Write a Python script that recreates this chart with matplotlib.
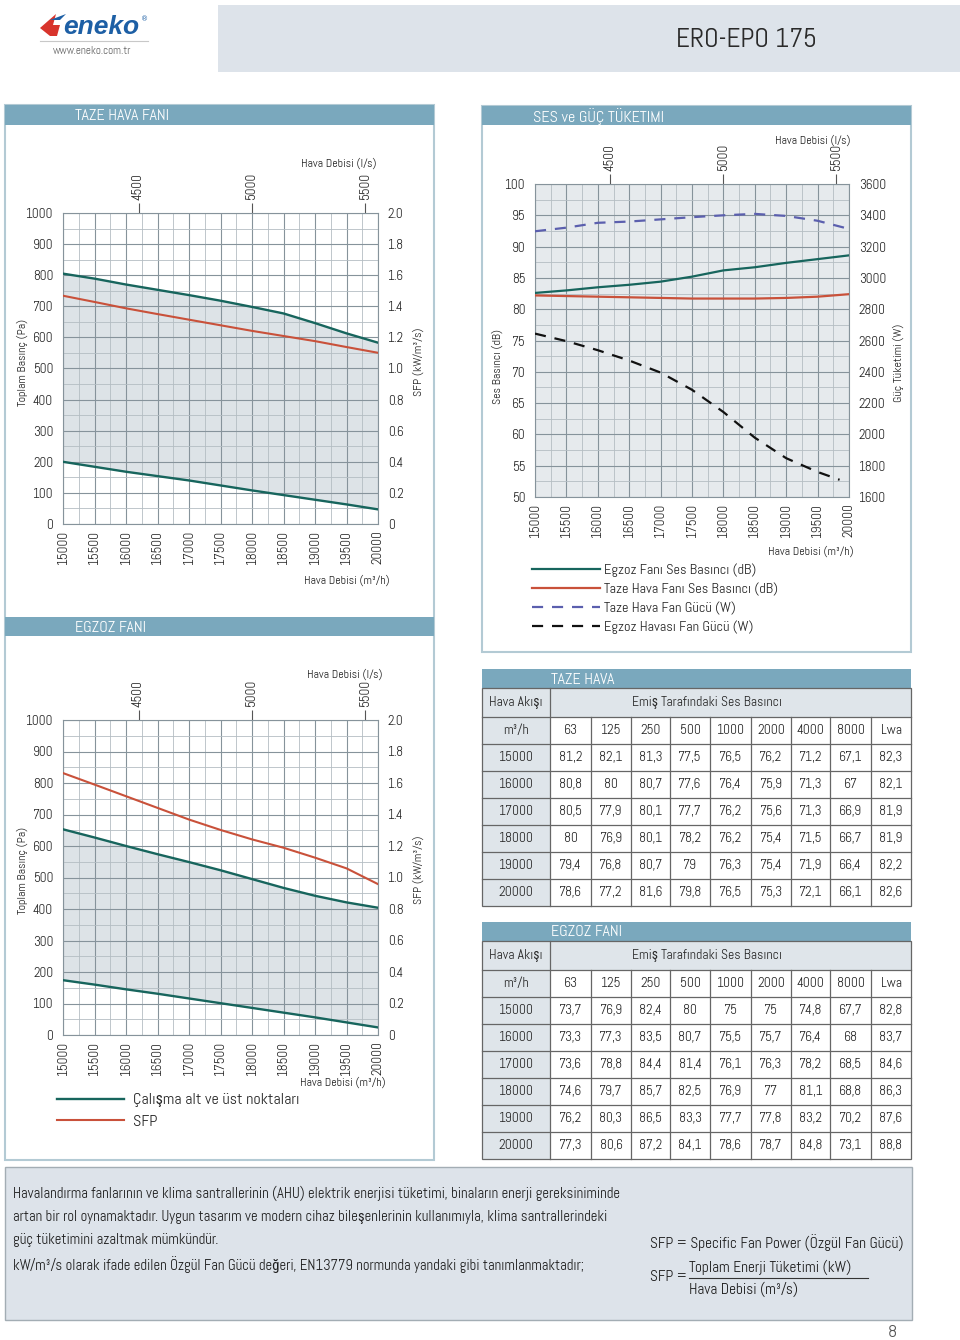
import matplotlib
matplotlib.use("Agg")
import matplotlib.pyplot as plt
from matplotlib.patches import Rectangle, Polygon
from matplotlib.ticker import MultipleLocator, FuncFormatter

plt.rcParams['font.family'] = ['Abel', 'Roboto Condensed', 'Liberation Sans Narrow', 'DejaVu Sans']
plt.rcParams['text.color'] = '#262626'
plt.rcParams['xtick.color'] = '#262626'
plt.rcParams['ytick.color'] = '#262626'

W, H = 960, 1340

# ---- data ----
flow = [15000, 15500, 16000, 16500, 17000, 17500, 18000, 18500, 19000, 19500, 20000]
ls_ticks = [4500, 5000, 5500]

taze_upper = [805, 789, 770, 753, 736, 718, 698, 677, 646, 613, 583]
taze_lower = [200, 184, 168, 154, 140, 124, 108, 93, 78, 63, 47]
taze_sfp = [1.468, 1.428, 1.387, 1.350, 1.314, 1.278, 1.242, 1.209, 1.176, 1.138, 1.101]

egz_upper = [653, 627, 600, 574, 549, 523, 495, 467, 442, 421, 404]
egz_lower = [174, 160, 145, 131, 116, 101, 86, 71, 56, 40, 24]
egz_sfp = [1.663, 1.590, 1.516, 1.442, 1.368, 1.302, 1.242, 1.189, 1.126, 1.058, 0.958]

egz_db = [82.6, 83.0, 83.5, 83.9, 84.4, 85.2, 86.2, 86.7, 87.4, 88.0, 88.6]
taze_db = [82.2, 82.1, 82.0, 81.9, 81.8, 81.7, 81.7, 81.7, 81.8, 82.0, 82.4]
taze_w = [3298, 3321, 3352, 3360, 3374, 3388, 3400, 3409, 3396, 3365, 3313]
egz_w_flow = [15000, 15500, 16000, 16500, 17000, 17500, 18000, 18500, 19000, 19500, 19850]
egz_w = [2644, 2596, 2538, 2472, 2395, 2285, 2143, 1979, 1848, 1760, 1710]

bands = ['63', '125', '250', '500', '1000', '2000', '4000', '8000', 'Lwa']
tbl_flows = ['15000', '16000', '17000', '18000', '19000', '20000']
taze_tbl = [
    ['81,2', '82,1', '81,3', '77,5', '76,5', '76,2', '71,2', '67,1', '82,3'],
    ['80,8', '80', '80,7', '77,6', '76,4', '75,9', '71,3', '67', '82,1'],
    ['80,5', '77,9', '80,1', '77,7', '76,2', '75,6', '71,3', '66,9', '81,9'],
    ['80', '76,9', '80,1', '78,2', '76,2', '75,4', '71,5', '66,7', '81,9'],
    ['79,4', '76,8', '80,7', '79', '76,3', '75,4', '71,9', '66,4', '82,2'],
    ['78,6', '77,2', '81,6', '79,8', '76,5', '75,3', '72,1', '66,1', '82,6'],
]
egz_tbl = [
    ['73,7', '76,9', '82,4', '80', '75', '75', '74,8', '67,7', '82,8'],
    ['73,3', '77,3', '83,5', '80,7', '75,5', '75,7', '76,4', '68', '83,7'],
    ['73,6', '78,8', '84,4', '81,4', '76,1', '76,3', '78,2', '68,5', '84,6'],
    ['74,6', '79,7', '85,7', '82,5', '76,9', '77', '81,1', '68,8', '86,3'],
    ['76,2', '80,3', '86,5', '83,3', '77,7', '77,8', '83,2', '70,2', '87,6'],
    ['77,3', '80,6', '87,2', '84,1', '78,6', '78,7', '84,8', '73,1', '88,8'],
]

TEAL = '#17655d'
RED = '#c9513a'
BLUE = '#5b5fae'
BAR = '#7aa8bd'
EDGE = '#b3cad4'
FILL = '#dde3e7'
LIGHT = '#dfe5ea'
GRID = '#86939b'
GRID2 = '#b4bdc3'
FS = 9.6     # tick labels
TFS = 9.8    # table text
LFS = 8.6    # axis titles

fig = plt.figure(figsize=(9.6, 13.4), dpi=100)
bg = fig.add_axes([0, 0, 1, 1])
bg.set_xlim(0, W)
bg.set_ylim(H, 0)
bg.axis('off')


def frame(x0, y0, x1, y1):
    return [x0 / W, 1 - y1 / H, (x1 - x0) / W, (y1 - y0) / H]


def bar(x0, y0, x1, y1, title, tx):
    bg.add_patch(Rectangle((x0, y0), x1 - x0, y1 - y0, fc=BAR, ec='none'))
    bg.text(tx, (y0 + y1) / 2 + 1, title, color='white', fontsize=11.5, va='center')


# ---- header ----
bg.add_patch(Rectangle((218, 5), 742, 67, fc='#dde3ea', ec='none'))
bg.text(746, 40, 'ERO-EPO 175', fontsize=19.5, ha='center', va='center', color='#2a2a2a')
bg.add_patch(Polygon([(40, 28), (56, 14), (53, 25), (60, 25), (57, 36), (50, 36)],
                     closed=True, fc='#d8342c', ec='none'))
bg.add_patch(Polygon([(50, 20), (66, 14), (60, 20)], closed=True, fc='#1d5fa5', ec='none'))
bg.text(101, 27, 'eneko', fontsize=19, fontweight='bold', style='italic',
        color='#1d5fa5', ha='center', va='center', family='Liberation Sans')
bg.text(145, 19, '®', fontsize=5, color='#1d5fa5', ha='center', va='center',
        family='DejaVu Sans')
bg.plot([40, 148], [41, 41], color='#c8c8c8', lw=0.8)
bg.text(92, 51, 'www.eneko.com.tr', fontsize=8, color='#666666', ha='center', va='center')

# ---- panels ----
bg.add_patch(Rectangle((5, 105), 429, 1055, fc='none', ec=EDGE, lw=1.5))
bar(5, 105, 434, 125, 'TAZE HAVA FANI', 75)
bar(5, 617, 434, 636, 'EGZOZ FANI', 75)
bg.add_patch(Rectangle((482, 106), 429, 546, fc='none', ec=EDGE, lw=1.5))
bar(482, 106, 911, 125, 'SES ve GÜÇ TÜKETIMI', 533)


def m3h_to_ls(q):
    return q / 3.6


def ls_to_m3h(v):
    return v * 3.6


def style_grid(ax, ymax, ymajor, yminor):
    ax.set_xlim(15000, 20000)
    ax.set_ylim(ymax - 10 * ymajor, ymax)
    ax.set_xticks(range(15000, 20001, 500))
    ax.xaxis.set_minor_locator(MultipleLocator(250))
    ax.yaxis.set_major_locator(MultipleLocator(ymajor))
    ax.yaxis.set_minor_locator(MultipleLocator(yminor))
    ax.set_axisbelow(True)
    ax.grid(which='major', color=GRID, lw=0.8)
    ax.grid(which='minor', color=GRID2, lw=0.6)
    ax.tick_params(which='both', length=0)
    ax.tick_params(axis='x', rotation=90, labelsize=FS, pad=4)
    ax.tick_params(axis='y', labelsize=FS, pad=7)
    for s in ax.spines.values():
        s.set_color(GRID)
        s.set_linewidth(0.8)
    sec = ax.secondary_xaxis('top', functions=(m3h_to_ls, ls_to_m3h))
    sec.set_xticks(ls_ticks)
    sec.tick_params(length=7, width=0.8, color='#555555', rotation=90, labelsize=FS, pad=2)
    sec.spines['top'].set_visible(False)


sfp_fmt = FuncFormatter(lambda v, p: '0' if abs(v) < 1e-9 else f'{v:.1f}')


def pressure_chart(rect, upper, lower, sfp, lx, ly_top, mx, my, ycen):
    ax = fig.add_axes(frame(*rect))
    ax.fill_between(flow, lower, upper, color=FILL, lw=0, zorder=0.2)
    l1, = ax.plot(flow, upper, color=TEAL, lw=1.7, zorder=3)
    ax.plot(flow, lower, color=TEAL, lw=1.7, zorder=3)
    style_grid(ax, 1000, 100, 50)
    tw = ax.twinx()
    l2, = tw.plot(flow, sfp, color=RED, lw=1.5)
    tw.set_ylim(0, 2.0)
    tw.yaxis.set_major_locator(MultipleLocator(0.2))
    tw.yaxis.set_major_formatter(sfp_fmt)
    tw.tick_params(length=0, labelsize=FS, pad=7)
    for s in tw.spines.values():
        s.set_visible(False)
    fig.text(lx / W, 1 - ly_top / H, 'Hava Debisi (l/s)', fontsize=LFS, ha='center', va='center')
    fig.text(mx / W, 1 - my / H, 'Hava Debisi (m³/h)', fontsize=LFS, ha='center', va='center')
    fig.text(22 / W, 1 - ycen / H, 'Toplam Basınç (Pa)', fontsize=LFS, rotation=90,
             ha='center', va='center')
    fig.text(418 / W, 1 - ycen / H, 'SFP (kW/m³/s)', fontsize=LFS, rotation=90,
             ha='center', va='center')
    return ax, l1, l2


pressure_chart((63, 213, 378, 524), taze_upper, taze_lower, taze_sfp, 339, 163, 347, 580, 362)
ax3, h1, h2 = pressure_chart((63, 720, 378, 1035), egz_upper, egz_lower, egz_sfp,
                             345, 674, 343, 1082, 870)
ax3.legend([h1, h2], ['Çalışma alt ve üst noktaları', 'SFP'], loc='upper left',
           bbox_to_anchor=(57 / W, 1 - 1093 / H), bbox_transform=fig.transFigure,
           frameon=False, fontsize=11.5, handlelength=4.2, handletextpad=0.55,
           labelspacing=0.45, borderaxespad=0, borderpad=0)

# ---- sound and power chart ----
ax2 = fig.add_axes(frame(535, 184, 849, 497))
ax2.set_facecolor('#e6eaed')
a1, = ax2.plot(flow, egz_db, color=TEAL, lw=1.6, zorder=3)
a2, = ax2.plot(flow, taze_db, color=RED, lw=1.6, zorder=3)
style_grid(ax2, 100, 5, 2.5)
tw2 = ax2.twinx()
a3, = tw2.plot(flow, taze_w, color=BLUE, lw=1.6, dashes=(5, 4))
a4, = tw2.plot(egz_w_flow, egz_w, color='#111111', lw=1.6, dashes=(5, 4))
tw2.set_ylim(1600, 3600)
tw2.yaxis.set_major_locator(MultipleLocator(200))
tw2.tick_params(length=0, labelsize=FS, pad=7)
for s in tw2.spines.values():
    s.set_visible(False)
fig.text(813 / W, 1 - 140 / H, 'Hava Debisi (l/s)', fontsize=LFS, ha='center', va='center')
fig.text(811 / W, 1 - 551 / H, 'Hava Debisi (m³/h)', fontsize=LFS, ha='center', va='center')
fig.text(497 / W, 1 - 367 / H, 'Ses Basıncı (dB)', fontsize=LFS, rotation=90, ha='center', va='center')
fig.text(898 / W, 1 - 363 / H, 'Güç Tüketimi (W)', fontsize=LFS, rotation=90, ha='center', va='center')
ax2.legend([a1, a2, a3, a4],
           ['Egzoz Fanı Ses Basıncı (dB)', 'Taze Hava Fanı Ses Basıncı (dB)',
            'Taze Hava Fan Gücü (W)', 'Egzoz Havası Fan Gücü (W)'],
           loc='upper left', bbox_to_anchor=(532 / W, 1 - 563 / H),
           bbox_transform=fig.transFigure, frameon=False, fontsize=10.4,
           handlelength=4.7, handletextpad=0.3, labelspacing=0.38,
           borderaxespad=0, borderpad=0)

# ---- tables ----
col_edges = [482, 550, 591, 631, 670, 710, 751, 791, 830, 871, 911]


def draw_table(y0, title, values):
    bar(482, y0, 911, y0 + 19, title, 551)
    y_head = y0 + 19
    y_unit = y_head + 29
    y_rows = y_unit + 27
    rh = 27
    y_end = y_rows + rh * len(values)
    line = dict(color='#666666', lw=0.9)
    bg.add_patch(Rectangle((482, y_head), 429, 29, fc=LIGHT, ec='none'))
    bg.add_patch(Rectangle((482, y_unit), 68, y_end - y_unit, fc=LIGHT, ec='none'))
    bg.add_patch(Rectangle((482, y_head), 429, y_end - y_head, fc='none', ec='#666666', lw=0.9))
    bg.plot([550, 550], [y_head, y_end], **line)
    for x in col_edges[2:-1]:
        bg.plot([x, x], [y_unit, y_end], **line)
    for y in [y_unit] + [y_rows + i * rh for i in range(len(values))]:
        bg.plot([482, 911], [y, y], **line)
    bg.text(516, y_head + 14.5, 'Hava Akışı', fontsize=TFS, ha='center', va='center')
    bg.text(707, y_head + 14.5, 'Emiş Tarafındaki Ses Basıncı', fontsize=TFS,
            ha='center', va='center')
    bg.text(516, y_unit + 13.5, 'm³/h', fontsize=TFS, ha='center', va='center')
    for j, b in enumerate(bands):
        bg.text((col_edges[j + 1] + col_edges[j + 2]) / 2, y_unit + 13.5, b,
                fontsize=TFS, ha='center', va='center')
    for i, row in enumerate(values):
        yc = y_rows + i * rh + rh / 2
        bg.text(516, yc, tbl_flows[i], fontsize=TFS, ha='center', va='center')
        for j, v in enumerate(row):
            bg.text((col_edges[j + 1] + col_edges[j + 2]) / 2, yc, v,
                    fontsize=TFS, ha='center', va='center')


draw_table(669, 'TAZE HAVA', taze_tbl)
draw_table(922, 'EGZOZ FANI', egz_tbl)

# ---- bottom note ----
bg.add_patch(Rectangle((5, 1167), 907, 153, fc='#dde3ea', ec='#a3adb4', lw=1))
para = [
    'Havalandırma fanlarının ve klima santrallerinin (AHU) elektrik enerjisi tüketimi, binaların enerji gereksiniminde',
    'artan bir rol oynamaktadır. Uygun tasarım ve modern cihaz bileşenlerinin kullanımıyla, klima santrallerindeki',
    'güç tüketimini azaltmak mümkündür.',
    'kW/m³/s olarak ifade edilen Özgül Fan Gücü değeri, EN13779 normunda yandaki gibi tanımlanmaktadır;',
]
for i, t in enumerate(para):
    bg.text(13, 1193 + i * 23.7, t, fontsize=10.6, va='center', color='#1e1e1e')
bg.text(650, 1243, 'SFP = Specific Fan Power (Özgül Fan Gücü)', fontsize=11, va='center',
        color='#1e1e1e')
bg.text(650, 1277, 'SFP =', fontsize=11, va='center', color='#1e1e1e')
bg.text(689, 1267, 'Toplam Enerji Tüketimi (kW)', fontsize=11, va='center', color='#1e1e1e')
bg.plot([689, 868], [1278, 1278], color='#333333', lw=0.8)
bg.text(689, 1289, 'Hava Debisi (m³/s)', fontsize=11, va='center', color='#1e1e1e')
bg.text(892, 1333, '8', fontsize=13, ha='center', va='center', color='#555555')

fig.savefig('out.png', dpi=100)
